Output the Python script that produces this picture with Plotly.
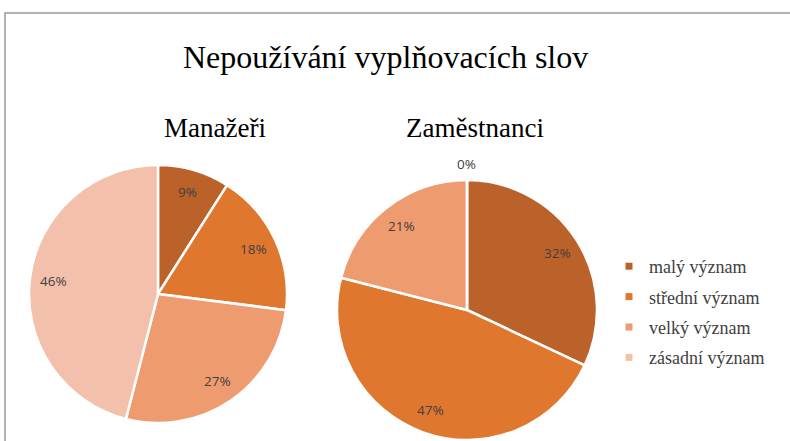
import math
import plotly.graph_objects as go

categories = ["malý význam", "střední význam", "velký význam", "zásadní význam"]
manazeri = [9, 18, 27, 46]
zamestnanci = [32, 47, 21, 0]
colors = ["#BB612A", "#DF772F", "#EE9B6F", "#F3C0AB"]

W, H = 790, 441

def px_x(x):
    return x / W

def px_y(y):
    return 1 - y / H

fig = go.Figure()

label_font = dict(family="Open Sans, Liberation Sans, sans-serif", size=13.5, color="#404040")

common = dict(
    labels=categories,
    sort=False,
    direction="clockwise",
    rotation=0,
    marker=dict(colors=colors, line=dict(color="white", width=2.5)),
    textinfo="none",
    showlegend=False,
    hoverinfo="label+percent",
)

pies = [
    ("Manažeři", manazeri, (28, 288), (165, 423)),
    ("Zaměstnanci", zamestnanci, (337, 597), (180, 440)),
]

for name, vals, (xl, xr), (yt, yb) in pies:
    fig.add_trace(go.Pie(values=vals, name=name,
                         domain=dict(x=[px_x(xl), px_x(xr)], y=[px_y(yb), px_y(yt)]),
                         **common))
    # data labels placed like Excel (about 0.82 of radius from centre)
    cx, cy = (xl + xr) / 2, (yt + yb) / 2
    R = min(xr - xl, yb - yt) / 2
    total = sum(vals)
    cum = 0
    for v in vals:
        mid = (cum + v / 2) / total * 2 * math.pi
        cum += v
        r = R * (0.82 if v > 0 else 1.12)
        lx = cx + r * math.sin(mid)
        ly = cy - r * math.cos(mid)
        fig.add_annotation(text=f"{round(100 * v / total)}%", x=px_x(lx), y=px_y(ly),
                           xref="paper", yref="paper", showarrow=False,
                           xanchor="center", yanchor="middle", font=label_font)

# legend via dummy traces
for i, (c, col) in enumerate(zip(categories, colors)):
    fig.add_trace(go.Scatter(x=[None], y=[None], mode="markers", name=c,
                             marker=dict(symbol="square", size=7, color=col),
                             legendgroup=str(i), showlegend=True, hoverinfo="skip"))

fig.update_xaxes(visible=False)
fig.update_yaxes(visible=False)

serif = "Liberation Serif, Times New Roman, serif"
fig.add_annotation(text="Nepoužívání vyplňovacích slov", x=px_x(385), y=px_y(57),
                   xref="paper", yref="paper", showarrow=False, yanchor="middle",
                   font=dict(family=serif, size=32, color="#000000"))
fig.add_annotation(text="Manažeři", x=px_x(162), y=px_y(128),
                   xref="paper", yref="paper", showarrow=False, yanchor="middle",
                   font=dict(family=serif, size=27, color="#000000"))
fig.add_annotation(text="Zaměstnanci", x=px_x(475), y=px_y(128),
                   xref="paper", yref="paper", showarrow=False, yanchor="middle",
                   font=dict(family=serif, size=27, color="#000000"))

fig.add_shape(type="rect", xref="paper", yref="paper",
              x0=px_x(5), x1=1.2, y0=-0.2, y1=px_y(13),
              line=dict(color="#9a9a9a", width=1.5))

fig.update_layout(
    width=W, height=H,
    margin=dict(l=0, r=0, t=0, b=0),
    paper_bgcolor="white", plot_bgcolor="white",
    legend=dict(x=px_x(609), y=px_y(248), xanchor="left", yanchor="top",
                font=dict(family=serif, size=18, color="#404040"),
                tracegroupgap=4, itemwidth=30, bgcolor="rgba(0,0,0,0)"),
)

fig.write_html("out.html", post_script="document.body.style.margin='0';",
               config={"displayModeBar": False})
